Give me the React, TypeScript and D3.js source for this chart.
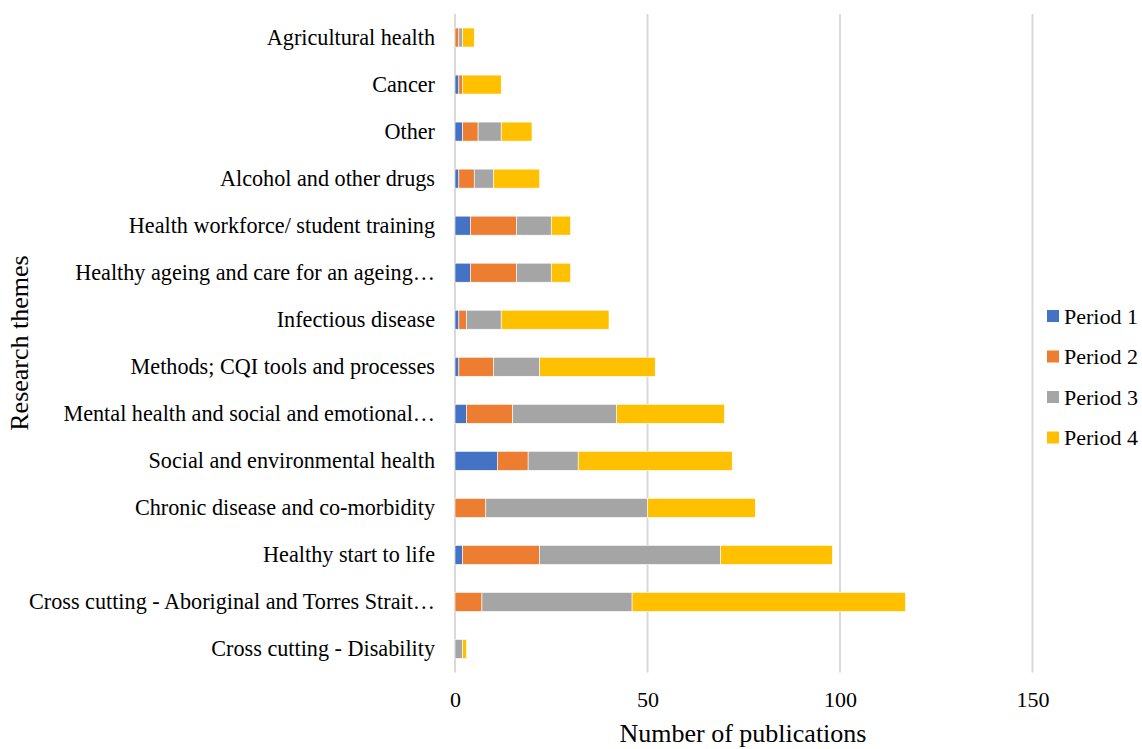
import { useEffect, useRef } from 'react'
import * as d3 from 'd3'

const themes = [
  'Agricultural health',
  'Cancer',
  'Other',
  'Alcohol and other drugs',
  'Health workforce/ student training',
  'Healthy ageing and care for an ageing…',
  'Infectious disease',
  'Methods; CQI tools and processes',
  'Mental health and social and emotional…',
  'Social and environmental health',
  'Chronic disease and co-morbidity',
  'Healthy start to life',
  'Cross cutting - Aboriginal and Torres Strait…',
  'Cross cutting - Disability',
]

const periods = ['Period 1', 'Period 2', 'Period 3', 'Period 4']
const colors = ['#4472C4', '#ED7D31', '#A5A5A5', '#FFC000']

const period1 = [0, 1, 2, 1, 4, 4, 1, 1, 3, 11, 0, 2, 0, 0]
const period2 = [1, 1, 4, 4, 12, 12, 2, 9, 12, 8, 8, 20, 7, 0]
const period3 = [1, 0, 6, 5, 9, 9, 9, 12, 27, 13, 42, 47, 39, 2]
const period4 = [3, 10, 8, 12, 5, 5, 28, 30, 28, 40, 28, 29, 71, 1]

const xTicks = [0, 50, 100, 150]

const WIDTH = 1142
const HEIGHT = 749
const FONT = '"Liberation Serif", "Times New Roman", serif'

export default function App() {
  const svgRef = useRef<SVGSVGElement>(null)

  useEffect(() => {
    if (!svgRef.current) return
    const svg = d3.select(svgRef.current)
    svg.selectAll('*').remove()

    const left = 455
    const right = 1032.5
    const top = 14
    const bottom = 672.5

    const x = d3.scaleLinear().domain([0, 150]).range([left, right])
    const y = d3.scaleBand<string>()
      .domain(themes)
      .range([top, bottom])
      .paddingInner(0.596)
      .paddingOuter(0.298)

    const rows = themes.map((t, i) => ({
      theme: t,
      'Period 1': period1[i],
      'Period 2': period2[i],
      'Period 3': period3[i],
      'Period 4': period4[i],
    }))
    const stacked = d3.stack<any>().keys(periods)(rows)

    // Grid
    svg.append('g')
      .selectAll('line')
      .data(xTicks)
      .join('line')
      .attr('x1', d => x(d)).attr('x2', d => x(d))
      .attr('y1', top).attr('y2', bottom)
      .attr('stroke', '#D9D9D9')
      .attr('stroke-width', 2)

    // Bars
    svg.append('g')
      .selectAll('g')
      .data(stacked)
      .join('g')
      .attr('fill', (_, i) => colors[i])
      .selectAll('rect')
      .data(d => d)
      .join('rect')
      .attr('x', d => x(d[0]))
      .attr('y', d => y(d.data.theme)!)
      .attr('width', d => Math.max(0, x(d[1]) - x(d[0])))
      .attr('height', y.bandwidth())
      .attr('stroke', d => (d[1] - d[0] > 0 ? '#fff' : 'none'))
      .attr('stroke-width', 0.6)

    // X axis
    svg.append('g')
      .attr('transform', `translate(0,${bottom})`)
      .call(d3.axisBottom(x).tickValues(xTicks).tickFormat(d => String(d)).tickSize(0).tickPadding(19))
      .call(sel => sel.select('.domain').remove())
      .call(sel => sel.selectAll('text').attr('fill', '#000').attr('font-size', 22).attr('font-family', FONT))

    // Y axis labels
    svg.append('g')
      .attr('transform', `translate(${left},0)`)
      .call(d3.axisLeft(y).tickSize(0).tickPadding(20))
      .call(sel => sel.select('.domain').remove())
      .call(sel => sel.selectAll('text').attr('fill', '#000').attr('font-size', 22.2).attr('font-family', FONT))

    // Axis titles
    svg.append('text')
      .attr('x', 743)
      .attr('y', 742)
      .attr('text-anchor', 'middle')
      .attr('font-size', 26)
      .attr('font-family', FONT)
      .text('Number of publications')

    svg.append('text')
      .attr('transform', 'translate(28,343) rotate(-90)')
      .attr('text-anchor', 'middle')
      .attr('font-size', 26)
      .attr('font-family', FONT)
      .text('Research themes')

    // Legend
    const legend = svg.append('g').attr('transform', 'translate(1047,316)')
    const item = legend.selectAll('g')
      .data(periods)
      .join('g')
      .attr('transform', (_, i) => `translate(0,${i * 40.5})`)
    item.append('rect')
      .attr('x', 0).attr('y', -6)
      .attr('width', 12).attr('height', 12)
      .attr('fill', (_, i) => colors[i])
    item.append('text')
      .attr('x', 17)
      .attr('dy', '0.35em')
      .attr('font-size', 22)
      .attr('font-family', FONT)
      .text(d => d)
  }, [])

  return (
    <div style={{ position: 'absolute', left: 0, top: 0 }}>
      <svg ref={svgRef} width={WIDTH} height={HEIGHT} style={{ display: 'block', background: '#fff' }} />
    </div>
  )
}
